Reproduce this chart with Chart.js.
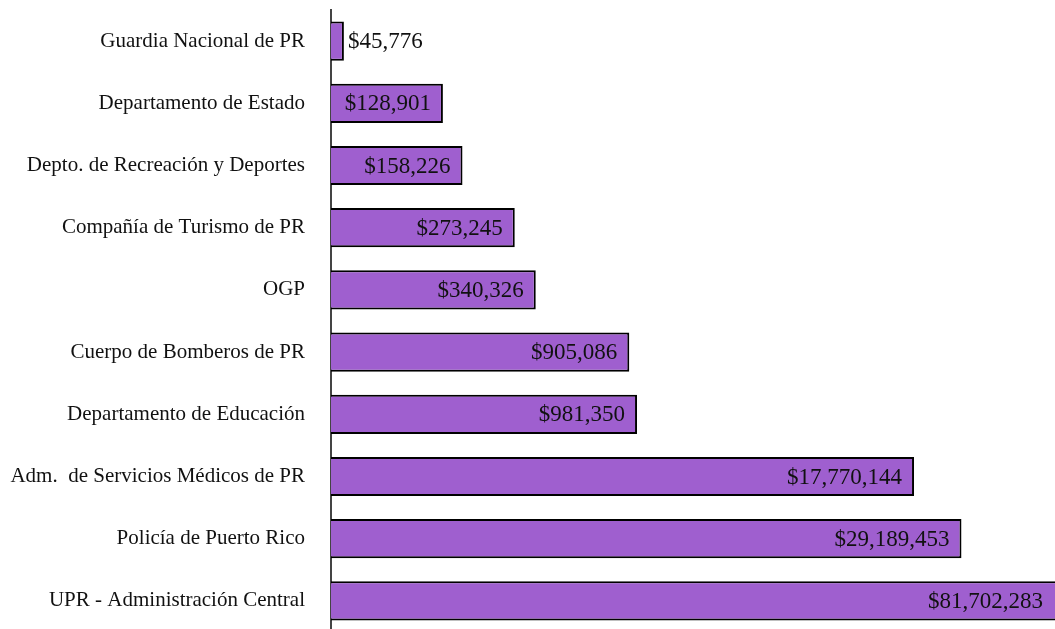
<!DOCTYPE html>
<html>
<head>
<meta charset="utf-8">
<script src="https://cdn.jsdelivr.net/npm/chart.js@4"></script>
<style>
    html, body { margin: 0; padding: 0; background: #fff; overflow: hidden; }
    .wrap { position: relative; width: 1055px; height: 642px; }
</style>
</head>
<body>
<div class="wrap"><canvas id="agencyChart"></canvas></div>
<script>
const agencies = [
    'Guardia Nacional de PR',
    'Departamento de Estado',
    'Depto. de Recreación y Deportes',
    'Compañía de Turismo de PR',
    'OGP',
    'Cuerpo de Bomberos de PR',
    'Departamento de Educación',
    'Adm.  de Servicios Médicos de PR',
    'Policía de Puerto Rico',
    'UPR - Administración Central'
];
const amounts = [45776, 128901, 158226, 273245, 340326, 905086, 981350, 17770144, 29189453, 81702283];

const FONT = '"Liberation Serif", "Times New Roman", serif';

const money = (v) => '$' + v.toLocaleString('en-US');

// value labels: inside the end of the bar, outside when the bar is too short
const barLabels = {
    id: 'barLabels',
    afterDatasetsDraw(chart) {
        const { ctx, chartArea } = chart;
        const meta = chart.getDatasetMeta(0);
        ctx.save();
        ctx.font = '23px ' + FONT;
        ctx.fillStyle = '#111';
        ctx.textBaseline = 'middle';
        meta.data.forEach((bar, i) => {
            const text = money(amounts[i]);
            const w = ctx.measureText(text).width;
            const end = Math.min(bar.x, chartArea.right);
            if (end - bar.base < w + 20) {
                ctx.textAlign = 'left';
                ctx.fillText(text, bar.x + 4, bar.y + 1);
            } else {
                ctx.textAlign = 'right';
                ctx.fillText(text, end - 12, bar.y + 1);
            }
        });
        ctx.restore();
    }
};

new Chart(document.getElementById('agencyChart'), {
    type: 'bar',
    data: {
        labels: agencies,
        datasets: [{
            data: amounts,
            backgroundColor: '#9f5fcf',
            borderColor: '#000',
            borderWidth: 2,
            barPercentage: 0.63,
            categoryPercentage: 1
        }]
    },
    options: {
        indexAxis: 'y',
        responsive: true,
        maintainAspectRatio: false,
        animation: false,
        layout: { padding: { top: 10, right: 0, bottom: 10, left: 0 } },
        plugins: {
            legend: { display: false },
            tooltip: { enabled: false }
        },
        scales: {
            x: {
                type: 'logarithmic',
                min: 40000,
                max: 77600000,
                display: false
            },
            y: {
                grid: {
                    display: true,
                    drawOnChartArea: false,
                    drawTicks: true,
                    tickLength: 26,
                    color: 'rgba(0,0,0,0)'
                },
                border: { display: true, color: '#444', width: 2 },
                ticks: {
                    padding: 0,
                    color: '#111',
                    font: { family: FONT, size: 21, lineHeight: 0.8 }
                },
                afterFit(scale) { scale.width = 331; }
            }
        }
    },
    plugins: [barLabels]
});
</script>
</body>
</html>
